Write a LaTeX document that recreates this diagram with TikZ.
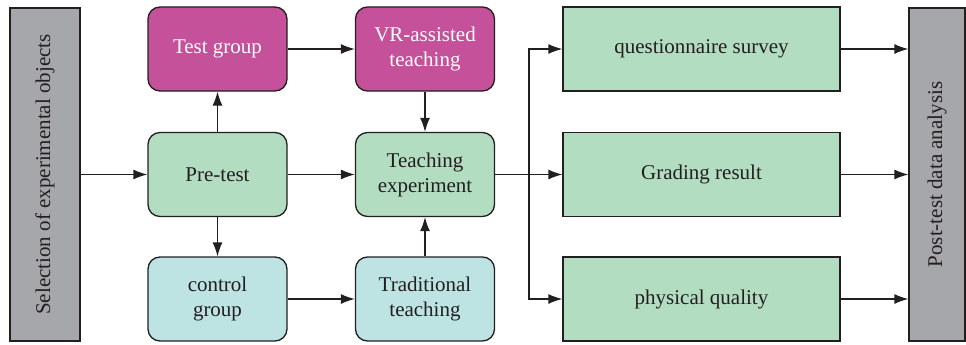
\documentclass[tikz,border=0pt]{standalone}
\usepackage{fontspec}
\setmainfont{Liberation Serif}
\usetikzlibrary{arrows.meta}
\definecolor{magbox}{HTML}{C4519A}
\definecolor{grnbox}{HTML}{B3DDC0}
\definecolor{cyanbox}{HTML}{BDE3E3}
\definecolor{graybox}{HTML}{A6A7AB}
\definecolor{txtdark}{HTML}{231F20}
\begin{document}
\begin{tikzpicture}[x=1pt,y=-1pt,
  base/.style={draw=txtdark,line width=1.3pt,inner sep=0pt,align=center,
    font=\fontsize{21}{25}\selectfont,text=txtdark},
  rbox/.style={base,rounded corners=12pt,minimum width=139pt,minimum height=84pt},
  magstep/.style={rbox,fill=magbox,text=white},
  grnstep/.style={rbox,fill=grnbox},
  cyanstep/.style={rbox,fill=cyanbox},
  outbox/.style={base,fill=grnbox,minimum width=277pt,minimum height=84pt},
  sidebox/.style={base,fill=graybox,minimum height=333pt},
  arr/.style={draw=txtdark,line width=1.3pt,-{Latex[length=14pt,width=10pt]}},
  vtext/.style={rotate=90,font=\fontsize{21}{25}\selectfont,text=txtdark}]
\useasboundingbox (0,0) rectangle (966,345);
\node[sidebox,minimum width=70pt] (sel) at (45,174.5) {};
\node[vtext] (selt) at (sel.center) {Selection of experimental objects};
\node[sidebox,minimum width=56pt] (post) at (937,174.5) {};
\node[vtext] (postt) at (post.center) {Post-test data analysis};
\node[magstep] (test) at (217.5,49) {Test group};
\node[grnstep] (pre) at (217.5,174.5) {Pre-test};
\node[cyanstep] (ctrl) at (217.5,299) {control\\group};
\node[magstep] (vr) at (425,49) {VR-assisted\\teaching};
\node[grnstep] (teach) at (425,174.5) {Teaching\\experiment};
\node[cyanstep] (trad) at (425,299) {Traditional\\teaching};
\node[outbox] (q) at (701.5,49) {questionnaire survey};
\node[outbox] (g) at (701.5,174.5) {Grading result};
\node[outbox] (p) at (701.5,299) {physical quality};
\coordinate (br) at (529,174.5);
\path[arr] (sel.east) -- (pre.west);
\path[arr] (pre.north) -- (test.south);
\path[arr] (pre.south) -- (ctrl.north);
\path[arr] (test.east) -- (vr.west);
\path[arr] (pre.east) -- (teach.west);
\path[arr] (ctrl.east) -- (trad.west);
\path[arr] (vr.south) -- (teach.north);
\path[arr] (trad.north) -- (teach.south);
\path[arr] (teach.east) -- (g.west);
\path[arr] (br) |- (q.west);
\path[arr] (br) |- (p.west);
\path[arr] (q.east) -- (q.east -| post.west);
\path[arr] (g.east) -- (g.east -| post.west);
\path[arr] (p.east) -- (p.east -| post.west);
\end{tikzpicture}
\end{document}
